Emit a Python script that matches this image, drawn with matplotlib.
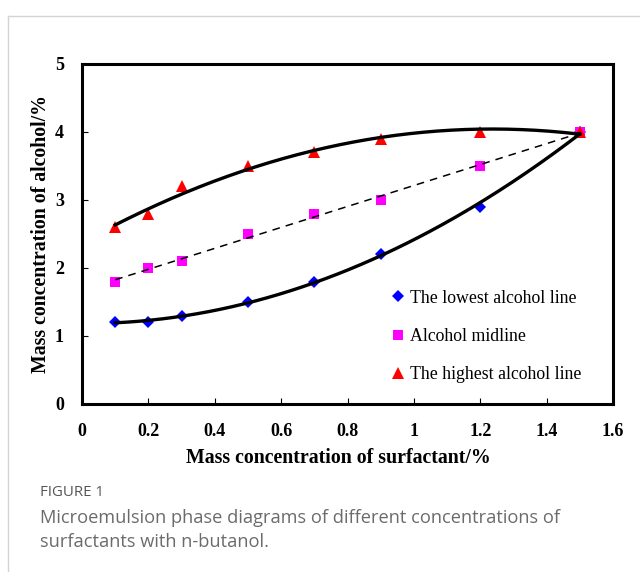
import numpy as np
import matplotlib.pyplot as plt
from matplotlib.lines import Line2D

x = [0.1, 0.2, 0.3, 0.5, 0.7, 0.9, 1.2, 1.5]
y_low = [1.2, 1.2, 1.3, 1.5, 1.8, 2.2, 2.9, 4.0]
y_mid = [1.8, 2.0, 2.1, 2.5, 2.8, 3.0, 3.5, 4.0]
y_high = [2.6, 2.8, 3.2, 3.5, 3.7, 3.9, 4.0, 4.0]

labels = ['The lowest alcohol line', 'Alcohol midline', 'The highest alcohol line']
xticks = [0, 0.2, 0.4, 0.6, 0.8, 1, 1.2, 1.4, 1.6]
xticklabels = ['0', '0.2', '0.4', '0.6', '0.8', '1', '1.2', '1.4', '1.6']
yticks = [0, 1, 2, 3, 4, 5]

serif = 'Liberation Serif'

fig = plt.figure(figsize=(6.4, 5.72), dpi=100)
ax = fig.add_axes([82 / 640, 1 - 404 / 572, 531 / 640, 340 / 572])

# Excel-style trendlines: quadratic for low/high, linear for mid
xf = np.linspace(0.1, 1.5, 200)
p_low = np.polyfit(x, y_low, 2)
p_mid = np.polyfit(x, y_mid, 1)
p_high = np.polyfit(x, y_high, 2)
ax.plot(xf, np.polyval(p_low, xf), color='black', lw=2.4, zorder=3)
ax.plot(xf, np.polyval(p_mid, xf), color='black', lw=1.1, ls=(0, (5, 4)), zorder=3)
ax.plot(xf, np.polyval(p_high, xf), color='black', lw=2.4, zorder=3)

ax.plot(x, y_low, 'D', color='#0000ff', ms=6.5, mew=0, zorder=2)
ax.plot(x, y_mid, 's', color='#ff00ff', ms=7, mew=0, zorder=2)
ax.plot(x, y_high, '^', color='#ff0000', ms=8, mew=0, zorder=2)

ax.set_xlim(0, 1.6)
ax.set_ylim(0, 5)
ax.set_xticks(xticks)
ax.set_xticklabels(xticklabels)
ax.set_yticks(yticks)
for s in ax.spines.values():
    s.set_linewidth(2.2)
ax.tick_params(direction='in', length=4, width=0.8)
ax.tick_params(axis='x', pad=14)
ax.tick_params(axis='y', pad=13)
for t in ax.get_xticklabels() + ax.get_yticklabels():
    t.set_fontfamily(serif)
    t.set_fontweight('bold')
    t.set_fontsize(13)

ax.set_xlabel('Mass concentration of surfactant/%', fontfamily=serif,
              fontweight='bold', fontsize=14.3)
ax.set_ylabel('Mass concentration of alcohol/%', fontfamily=serif,
              fontweight='bold', fontsize=14.3)
ax.xaxis.set_label_coords(0.482, -0.128)
ax.yaxis.set_label_coords(-0.058, 0.5)

handles = [
    Line2D([], [], ls='none', marker='D', color='#0000ff', ms=6.5, mew=0),
    Line2D([], [], ls='none', marker='s', color='#ff00ff', ms=7, mew=0),
    Line2D([], [], ls='none', marker='^', color='#ff0000', ms=8, mew=0),
]
ax.legend(handles, labels, loc='lower left', bbox_to_anchor=(0.551, 0.014),
          frameon=False, prop={'family': serif, 'size': 12.8},
          handlelength=0.8, handletextpad=0.3, labelspacing=1.2)

# outer frame and caption
fig.add_artist(Line2D([8 / 640, 1], [1 - 16 / 572, 1 - 16 / 572], color='#d4d4d4', lw=1))
fig.add_artist(Line2D([8 / 640, 8 / 640], [0, 1 - 16 / 572], color='#d4d4d4', lw=1))
fig.text(40 / 640, 1 - 493 / 572, 'FIGURE 1', fontfamily='Open Sans', fontsize=10.8,
         color='#555555', va='center')
fig.text(40 / 640, 1 - 518 / 572,
         'Microemulsion phase diagrams of different concentrations of',
         fontfamily='Open Sans', fontsize=13.15, color='#6b6b6b', va='center')
fig.text(40 / 640, 1 - 542 / 572, 'surfactants with n-butanol.',
         fontfamily='Open Sans', fontsize=13.15, color='#6b6b6b', va='center')

fig.savefig('out.png', dpi=100)
